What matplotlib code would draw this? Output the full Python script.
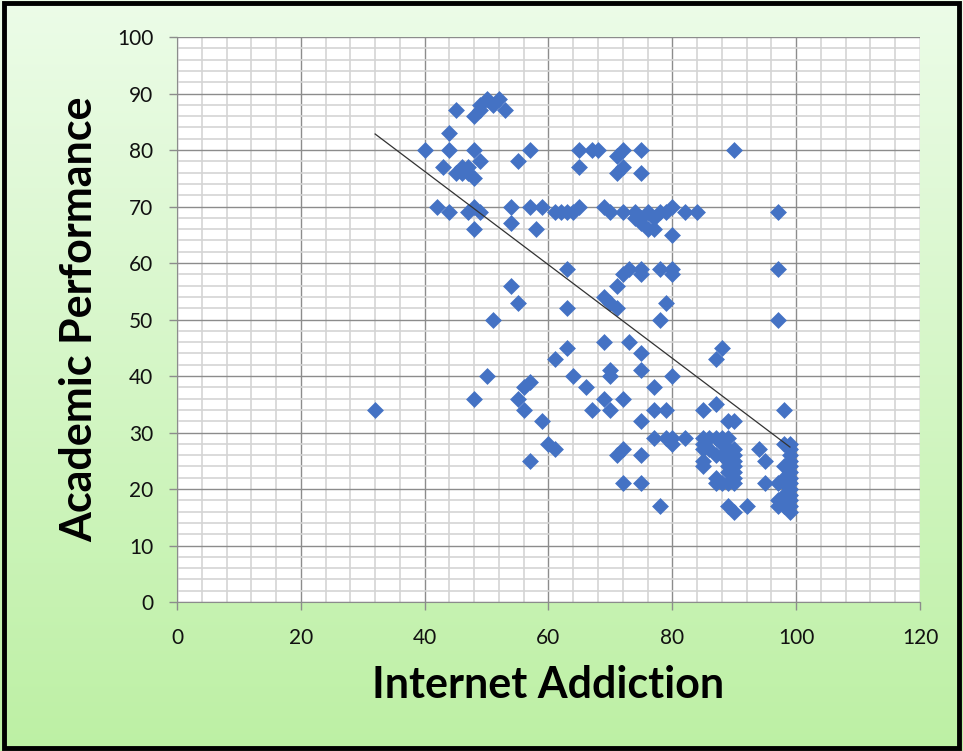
import numpy as np
import matplotlib
matplotlib.use('Agg')
import matplotlib.pyplot as plt
from matplotlib.ticker import MultipleLocator
from matplotlib.patches import Rectangle

# internet addiction score vs academic performance
addiction = [
    40, 43, 44, 44, 45, 45, 46, 46, 47, 47, 48, 48, 48, 49, 49, 49, 50, 51, 52, 53,
    55, 57, 65, 65, 67, 68, 71, 72, 72, 71, 75, 75, 90,
    42, 44, 47, 48, 49, 54, 57, 59, 61, 62, 63, 64, 65, 69, 70, 72, 74, 74, 75, 75,
    76, 76, 77, 77, 78, 79, 80, 82, 84, 97, 54, 58, 48, 80,
    63, 72, 73, 75, 75, 78, 80, 80, 97, 71, 54, 55, 51, 63, 69, 70, 71, 79, 78, 97,
    69, 73, 75, 63, 61, 88, 87, 50, 64, 70, 70, 75, 80, 66, 77, 57, 56, 55, 56, 48,
    32, 59, 60, 61, 57, 69, 72, 67, 70, 77, 79, 75, 85, 87, 90, 89, 98,
    77, 79, 80, 80, 82, 72, 71, 75, 72, 75, 78,
    85, 85, 86, 87, 88, 89, 85, 85, 85, 86, 87, 88, 88, 89, 89, 89, 89, 90, 90, 90,
    90, 90, 90, 89, 90, 87, 88, 87, 89, 90, 92, 94, 95, 95,
    98, 99, 99, 99, 99, 99, 98, 99, 98, 99, 97, 98, 99, 99, 98, 99, 97, 98, 99, 97,
    98, 99, 99,
]
performance = [
    80, 77, 83, 80, 87, 76, 77, 76, 76, 77, 75, 80, 86, 87, 78, 88, 89, 88, 89, 87,
    78, 80, 80, 77, 80, 80, 79, 80, 77, 76, 80, 76, 80,
    70, 69, 69, 70, 69, 70, 70, 70, 69, 69, 69, 69, 70, 70, 69, 69, 68, 69, 67, 68,
    66, 69, 68, 66, 69, 69, 70, 69, 69, 69, 67, 66, 66, 65,
    59, 58, 59, 59, 58, 59, 59, 58, 59, 56, 56, 53, 50, 52, 54, 53, 52, 53, 50, 50,
    46, 46, 44, 45, 43, 45, 43, 40, 40, 41, 40, 41, 40, 38, 38, 39, 38, 36, 34, 36,
    34, 32, 28, 27, 25, 36, 36, 34, 34, 34, 34, 32, 34, 35, 32, 32, 34,
    29, 29, 28, 29, 29, 27, 26, 26, 21, 21, 17,
    29, 28, 29, 29, 29, 29, 27, 25, 24, 27, 26, 28, 26, 27, 25, 24, 23, 27, 26, 25,
    24, 23, 22, 21, 21, 21, 21, 22, 17, 16, 17, 27, 25, 21,
    28, 28, 27, 26, 25, 24, 24, 23, 22, 22, 21, 21, 21, 20, 19, 19, 18, 18, 18, 17,
    17, 17, 16,
]
x_ticks = [0, 20, 40, 60, 80, 100, 120]
y_ticks = [0, 10, 20, 30, 40, 50, 60, 70, 80, 90, 100]

# Excel linear trendline as shown in the picture (many points overlap, so
# refitting the read-off values gives a slightly steeper line)
trend_slope = -0.827
trend_intercept = 109.3

plt.rcParams['font.family'] = ['Lato', 'DejaVu Sans']

fig = plt.figure(figsize=(9.63, 7.51), dpi=100)

# green gradient behind everything
bg = fig.add_axes([0, 0, 1, 1], zorder=-10)
grad = np.linspace(0, 1, 256).reshape(-1, 1)
cmap = matplotlib.colors.LinearSegmentedColormap.from_list('g', ['#ecfce8', '#bdf0a4'])
bg.imshow(grad, aspect='auto', cmap=cmap, extent=[0, 1, 0, 1], origin='upper')
bg.set_axis_off()
bg.add_patch(Rectangle((0.004, 0.004), 0.992, 0.992, transform=bg.transAxes,
                       fill=False, edgecolor='black', linewidth=3.5))

ax = fig.add_axes([0.1838, 0.1984, 0.7715, 0.7523])
ax.set_facecolor('white')

ax.scatter(addiction, performance, marker='D', s=8.6 ** 2, color='#4472C4',
           linewidths=0, zorder=3)

# trendline over the data range
xs = np.array([min(addiction), max(addiction)])
ax.plot(xs, trend_slope * xs + trend_intercept, color='#333333', linewidth=0.9, zorder=4)

ax.set_xlim(0, 120)
ax.set_ylim(0, 100)
ax.set_xticks(x_ticks)
ax.set_yticks(y_ticks)
ax.xaxis.set_minor_locator(MultipleLocator(4))
ax.yaxis.set_minor_locator(MultipleLocator(2))
ax.grid(which='minor', color='#d4d4d4', linewidth=1.2, zorder=0)
ax.grid(which='major', color='#8c8c8c', linewidth=1.0, zorder=1)
ax.set_axisbelow(True)

for side in ['top', 'right']:
    ax.spines[side].set_visible(False)
for side in ['left', 'bottom']:
    ax.spines[side].set_color('#8c8c8c')
ax.tick_params(which='major', length=6, width=1, color='#8c8c8c',
               labelsize=15, labelcolor='#111111')
ax.tick_params(axis='y', pad=11)
ax.tick_params(axis='x', pad=13)
ax.tick_params(which='minor', length=0)

ax.set_xlabel('Internet Addiction', fontsize=31, fontweight='bold', labelpad=12)
ax.set_ylabel('Academic Performance', fontsize=31, fontweight='bold', labelpad=13)

plt.savefig('out.png', dpi=100)
